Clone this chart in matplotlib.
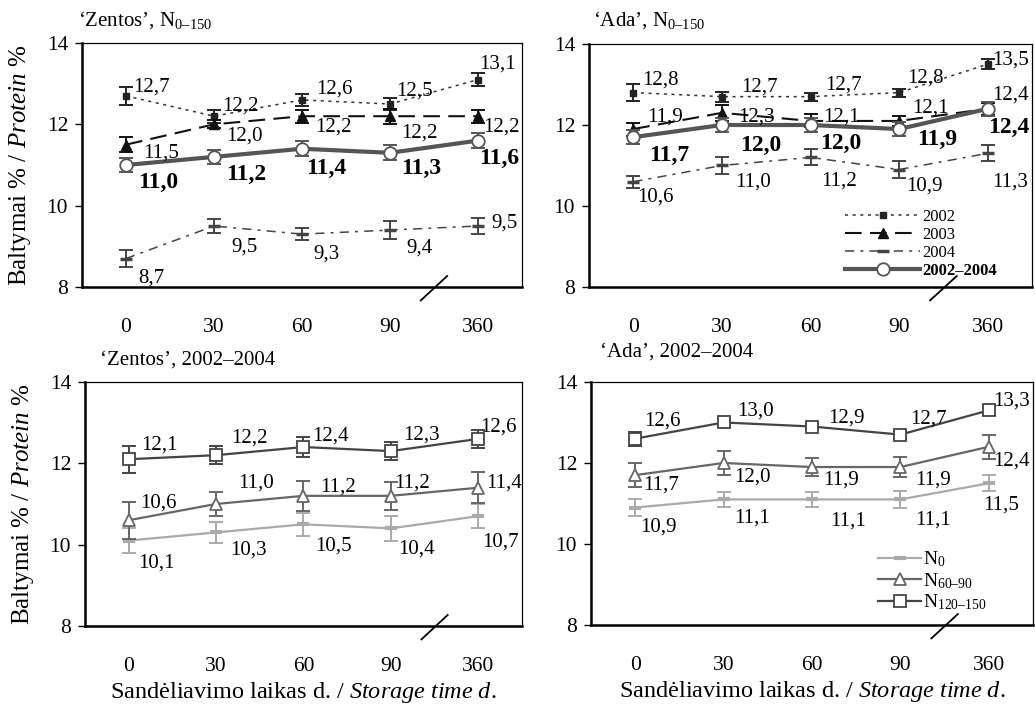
import matplotlib
matplotlib.use('Agg')
import matplotlib.pyplot as plt

plt.rcParams['font.family'] = ['Liberation Serif', 'DejaVu Serif']
plt.rcParams['mathtext.fontset'] = 'custom'
plt.rcParams['mathtext.rm'] = 'Liberation Serif'
plt.rcParams['mathtext.it'] = 'Liberation Serif:italic'
plt.rcParams['mathtext.bf'] = 'Liberation Serif:bold'

# laikymo trukme, d.
days = ['0', '30', '60', '90', '360']

# 'Zentos', N0-150, pagal metus
zentos_2002 = [12.7, 12.2, 12.6, 12.5, 13.1]
zentos_2002_err = [0.22, 0.16, 0.14, 0.15, 0.16]
zentos_2003 = [11.5, 12.0, 12.2, 12.2, 12.2]
zentos_2003_err = [0.18, 0.1, 0.16, 0.18, 0.16]
zentos_2004 = [8.7, 9.5, 9.3, 9.4, 9.5]
zentos_2004_err = [0.2, 0.18, 0.15, 0.22, 0.2]
zentos_mean = [11.0, 11.2, 11.4, 11.3, 11.6]
zentos_mean_err = [0.18, 0.18, 0.18, 0.18, 0.18]

# 'Ada', N0-150, pagal metus
ada_2002 = [12.8, 12.7, 12.7, 12.8, 13.5]
ada_2002_err = [0.2, 0.12, 0.1, 0.1, 0.12]
ada_2003 = [11.9, 12.3, 12.1, 12.1, 12.4]
ada_2003_err = [0.16, 0.2, 0.16, 0.12, 0.15]
ada_2004 = [10.6, 11.0, 11.2, 10.9, 11.3]
ada_2004_err = [0.15, 0.2, 0.2, 0.2, 0.2]
ada_mean = [11.7, 12.0, 12.0, 11.9, 12.4]
ada_mean_err = [0.18, 0.18, 0.18, 0.18, 0.18]

# 'Zentos', 2002-2004, pagal tręšimą
zentos_n0 = [10.1, 10.3, 10.5, 10.4, 10.7]
zentos_n0_err = [0.3, 0.25, 0.28, 0.3, 0.3]
zentos_n60 = [10.6, 11.0, 11.2, 11.2, 11.4]
zentos_n60_err = [0.45, 0.3, 0.37, 0.34, 0.38]
zentos_n120 = [12.1, 12.2, 12.4, 12.3, 12.6]
zentos_n120_err = [0.33, 0.22, 0.25, 0.22, 0.22]

# 'Ada', 2002-2004, pagal tręšimą
ada_n0 = [10.9, 11.1, 11.1, 11.1, 11.5]
ada_n0_err = [0.2, 0.18, 0.18, 0.2, 0.2]
ada_n60 = [11.7, 12.0, 11.9, 11.9, 12.4]
ada_n60_err = [0.29, 0.29, 0.22, 0.24, 0.29]
ada_n120 = [12.6, 13.0, 12.9, 12.7, 13.3]
ada_n120_err = [0.17, 0.08, 0.06, 0.1, 0.12]

year_labels = ['2002', '2003', '2004', '2002–2004']
n_labels = [r'N$_{\mathregular{0}}$', r'N$_{\mathregular{60–90}}$', r'N$_{\mathregular{120–150}}$']

# stiliai
year_styles = [
    dict(color='#333333', ls=(0, (2, 3)), lw=1.1, marker='s', ms=5, mfc='#222222', mec='#222222'),
    dict(color='#111111', ls=(0, (8, 4)), lw=1.5, marker='^', ms=7, mfc='#111111', mec='#111111'),
    dict(color='#444444', ls=(0, (6, 4, 2, 4)), lw=1.1, marker='_', ms=8, mew=2.5, mec='#444444'),
    dict(color='#555555', ls='-', lw=3, marker='o', ms=9, mfc='white', mec='#555555', mew=1.3),
]
n_styles = [
    dict(color='#aaaaaa', ls='-', lw=1.6, marker='_', ms=9, mew=3, mec='#aaaaaa'),
    dict(color='#666666', ls='-', lw=1.6, marker='^', ms=9, mfc='white', mec='#666666', mew=1.3),
    dict(color='#444444', ls='-', lw=1.6, marker='s', ms=8, mfc='white', mec='#444444', mew=1.3),
]

# etikečių poslinkiai (px)
offs_tl = [
    [(7, 9), (8, 10), (14, 11), (6, 13), (1, 16)],
    [(17, -8), (12, -12), (13, -11), (11, -17), (5, -11)],
    [(12, -20), (17, -21), (11, -20), (16, -18), (13, 3)],
    [(12, -17), (12, -18), (4, -20), (11, -16), (1, -18)],
]
offs_tr = [
    [(9, 13), (19, 10), (15, 12), (8, 15), (4, 4)],
    [(14, 12), (16, -4), (13, 4), (13, 13), (4, 14)],
    [(4, -15), (13, -17), (11, -24), (7, -16), (4, -29)],
    [(16, -18), (18, -20), (10, -18), (18, -10), (0, -19)],
]
offs_bl = [
    [(10, -22), (14, -18), (12, -22), (7, -21), (4, -26)],
    [(12, 17), (22, 21), (17, 9), (3, 13), (8, 5)],
    [(13, 14), (15, 17), (9, 11), (12, 16), (2, 12)],
]
offs_br = [
    [(5, -20), (11, -19), (18, -22), (15, -21), (-6, -22)],
    [(8, -10), (11, -14), (11, -13), (15, -13), (4, -14)],
    [(9, 18), (14, 11), (16, 8), (10, 16), (4, 9)],
]


def fmt(v):
    return f'{v:.1f}'.replace('.', ',')


def draw_panel(ax, series, errors, styles, offsets, bold_last=False):
    x = list(range(len(days)))
    lines = []
    # vidurkis piešiamas virš kitų
    for k, (vals, errs, st) in enumerate(zip(series, errors, styles)):
        z = 3 + k
        ax.errorbar(x, vals, yerr=errs, fmt='none', ecolor=st.get('mec', st['color']),
                    elinewidth=1.4, capsize=5, capthick=1.4, zorder=z)
        ln, = ax.plot(x, vals, zorder=z + 0.5, **st)
        lines.append(ln)
        bold = bold_last and k == len(series) - 1
        for xi, v, (dx, dy) in zip(x, vals, offsets[k]):
            ax.annotate(fmt(v), (xi, v), xytext=(dx, dy), textcoords='offset pixels',
                        ha='left', va='center', fontsize=17 if bold else 15,
                        fontweight='bold' if bold else 'normal', zorder=10)
    ax.set_xlim(-0.5, 4.5)
    ax.set_ylim(8, 14)
    ax.set_yticks([8, 10, 12, 14])
    ax.set_xticks(x)
    ax.set_xticklabels(days)
    ax.tick_params(axis='x', length=0, pad=22, labelsize=15.5)
    ax.tick_params(axis='y', length=5, width=1, pad=5, labelsize=15.5)
    ax.spines['left'].set_linewidth(1.8)
    ax.spines['bottom'].set_linewidth(1.8)
    ax.spines['top'].set_linewidth(0.9)
    ax.spines['right'].set_linewidth(0.9)
    # ašies pertraukimo žymė
    ax.plot([0.77, 0.83], [-0.055, 0.045], transform=ax.transAxes, color='black',
            lw=1.3, clip_on=False, zorder=12)
    return lines


fig = plt.figure(figsize=(10.35, 7.05), dpi=100)
ax_tl = fig.add_axes([0.0792, 0.5929, 0.4251, 0.3461])
ax_tr = fig.add_axes([0.5691, 0.5929, 0.4280, 0.3447])
ax_bl = fig.add_axes([0.0821, 0.1121, 0.4222, 0.3461])
ax_br = fig.add_axes([0.5710, 0.1135, 0.4271, 0.3447])

draw_panel(ax_tl, [zentos_2002, zentos_2003, zentos_2004, zentos_mean],
           [zentos_2002_err, zentos_2003_err, zentos_2004_err, zentos_mean_err],
           year_styles, offs_tl, bold_last=True)
lines_tr = draw_panel(ax_tr, [ada_2002, ada_2003, ada_2004, ada_mean],
                      [ada_2002_err, ada_2003_err, ada_2004_err, ada_mean_err],
                      year_styles, offs_tr, bold_last=True)
draw_panel(ax_bl, [zentos_n0, zentos_n60, zentos_n120],
           [zentos_n0_err, zentos_n60_err, zentos_n120_err],
           n_styles, offs_bl)
lines_br = draw_panel(ax_br, [ada_n0, ada_n60, ada_n120],
                      [ada_n0_err, ada_n60_err, ada_n120_err],
                      n_styles, offs_br)

leg = ax_tr.legend(lines_tr, year_labels, loc='lower left', bbox_to_anchor=(0.545, -0.03),
                   frameon=False, fontsize=12, handlelength=4.5, handletextpad=0.1,
                   labelspacing=0.12, numpoints=1)
leg.get_texts()[-1].set_fontweight('bold')
ax_br.legend(lines_br, n_labels, loc='lower left', bbox_to_anchor=(0.61, -0.02),
             frameon=False, fontsize=14, handlelength=2.2, handletextpad=0.1,
             labelspacing=0.1, numpoints=1)

ylab = r'Baltymai % / $\mathit{Protein}$ %'
ax_tl.set_ylabel(ylab, fontsize=18, labelpad=10)
ax_bl.set_ylabel(ylab, fontsize=18, labelpad=10)
xlab = r'Sandėliavimo laikas d. / $\mathit{Storage\ time\ d.}$'
ax_bl.set_xlabel(xlab, fontsize=17.5, labelpad=3)
ax_br.set_xlabel(xlab, fontsize=17.5, labelpad=3)

fig.text(78 / 1035, 1 - 20 / 705, r'‘Zentos’, N$_{\mathregular{0–150}}$', fontsize=15, va='center')
fig.text(593 / 1035, 1 - 20 / 705, r'‘Ada’, N$_{\mathregular{0–150}}$', fontsize=15, va='center')
fig.text(100 / 1035, 1 - 360 / 705, '‘Zentos’, 2002–2004', fontsize=15, va='center')
fig.text(600 / 1035, 1 - 352 / 705, '‘Ada’, 2002–2004', fontsize=15, va='center')

plt.savefig('out.png', dpi=100)
